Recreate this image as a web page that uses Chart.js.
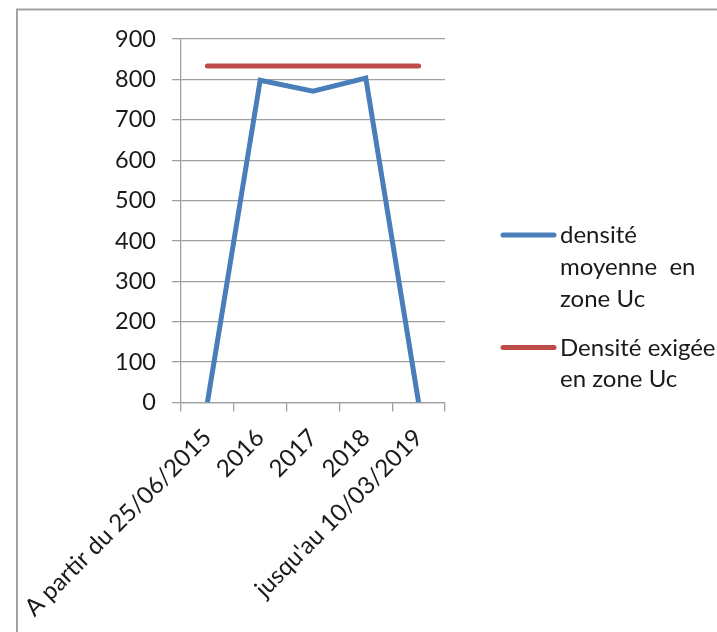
<!DOCTYPE html>
<html>
<head>
<meta charset="utf-8">
<script src="https://cdn.jsdelivr.net/npm/chart.js@4.4.0/dist/chart.umd.min.js"></script>
<style>
  html, body { margin: 0; padding: 0; background: #ffffff; }
  #wrap { position: relative; width: 717px; height: 632px; overflow: hidden; }
</style>
</head>
<body>
<div id="wrap"><canvas id="chart" width="717" height="632"></canvas></div>
<script>
// Categories along the horizontal axis
const categories = ['A partir du 25/06/2015', '2016', '2017', '2018', "jusqu'au 10/03/2019"];

// Average density measured in zone Uc
const densiteMoyenne = [0, 798, 771, 803, 0];

// Density required in zone Uc
const densiteExigee = [833, 833, 833, 833, 833];

// Vertical axis ticks
const yTicks = [0, 100, 200, 300, 400, 500, 600, 700, 800, 900];

// Series names, as they wrap in the side legend
const seriesNames = ['densité moyenne  en zone Uc', 'Densité exigée en zone Uc'];
const legendLines = [['densité', 'moyenne  en', 'zone Uc'], ['Densité exigée', 'en zone Uc']];

const FONT = "Lato, 'Liberation Sans', sans-serif";
const TEXT = '#1a1a1a';
const GRID = '#a0a0a0';

// Thin grey frame around the chart
const framePlugin = {
  id: 'frame',
  beforeDraw(chart) {
    const ctx = chart.ctx;
    ctx.save();
    ctx.strokeStyle = '#a3a3a3';
    ctx.lineWidth = 2;
    ctx.beginPath();
    ctx.moveTo(17, chart.height);
    ctx.lineTo(17, 9.5);
    ctx.lineTo(chart.width, 9.5);
    ctx.stroke();
    ctx.restore();
  }
};

// Legend on the right with wrapped series names
const sideLegend = {
  id: 'sideLegend',
  afterDraw(chart) {
    const ctx = chart.ctx;
    const tops = [235, 347.5];
    ctx.save();
    chart.data.datasets.forEach((ds, i) => {
      const y = tops[i];
      ctx.strokeStyle = ds.borderColor;
      ctx.lineWidth = 5;
      ctx.lineCap = 'round';
      ctx.beginPath();
      ctx.moveTo(503, y);
      ctx.lineTo(554, y);
      ctx.stroke();
      ctx.fillStyle = TEXT;
      ctx.font = '24px ' + FONT;
      ctx.textAlign = 'left';
      ctx.textBaseline = 'alphabetic';
      legendLines[i].forEach((line, k) => {
        ctx.fillText(line, 560, y + 8 + k * 31.8);
      });
    });
    ctx.restore();
  }
};

new Chart(document.getElementById('chart'), {
  type: 'line',
  data: {
    labels: categories,
    datasets: [
      {
        label: seriesNames[0],
        data: densiteMoyenne,
        borderColor: '#4A7EBB',
        backgroundColor: '#4A7EBB',
        borderWidth: 5,
        pointRadius: 0,
        tension: 0,
        borderJoinStyle: 'miter',
        borderCapStyle: 'butt',
        clip: { left: 6, top: 6, right: 6, bottom: 0 }
      },
      {
        label: seriesNames[1],
        data: densiteExigee,
        borderColor: '#BE4B48',
        backgroundColor: '#BE4B48',
        borderWidth: 5,
        pointRadius: 0,
        tension: 0,
        borderCapStyle: 'round'
      }
    ]
  },
  options: {
    responsive: false,
    animation: false,
    devicePixelRatio: 1,
    layout: { padding: { left: 0, top: 39, right: 272, bottom: 0 } },
    plugins: {
      legend: { display: false },
      tooltip: { enabled: false }
    },
    scales: {
      x: {
        offset: true,
        grid: {
          offset: true,
          drawOnChartArea: false,
          drawTicks: true,
          tickLength: 9,
          color: GRID,
          lineWidth: 1.3
        },
        border: { display: true, color: GRID, width: 1.3 },
        ticks: {
          autoSkip: false,
          minRotation: 45,
          maxRotation: 45,
          padding: 12,
          color: TEXT,
          font: { family: FONT, size: 24 }
        },
        afterFit(scale) {
          // the long rotated labels must not push the plot area aside
          scale.height = 229.5;
          scale.paddingLeft = 0;
          scale.paddingRight = 0;
        }
      },
      y: {
        min: 0,
        max: 900,
        afterBuildTicks(scale) { scale.ticks = yTicks.map(v => ({ value: v })); },
        grid: {
          color: GRID,
          lineWidth: 1.3,
          tickLength: 9
        },
        border: { display: true, color: GRID, width: 1.3 },
        ticks: {
          padding: 16,
          color: TEXT,
          font: { family: FONT, size: 23.5 }
        },
        afterFit(scale) { scale.width = 181; }
      }
    }
  },
  plugins: [framePlugin, sideLegend]
});
</script>
</body>
</html>
